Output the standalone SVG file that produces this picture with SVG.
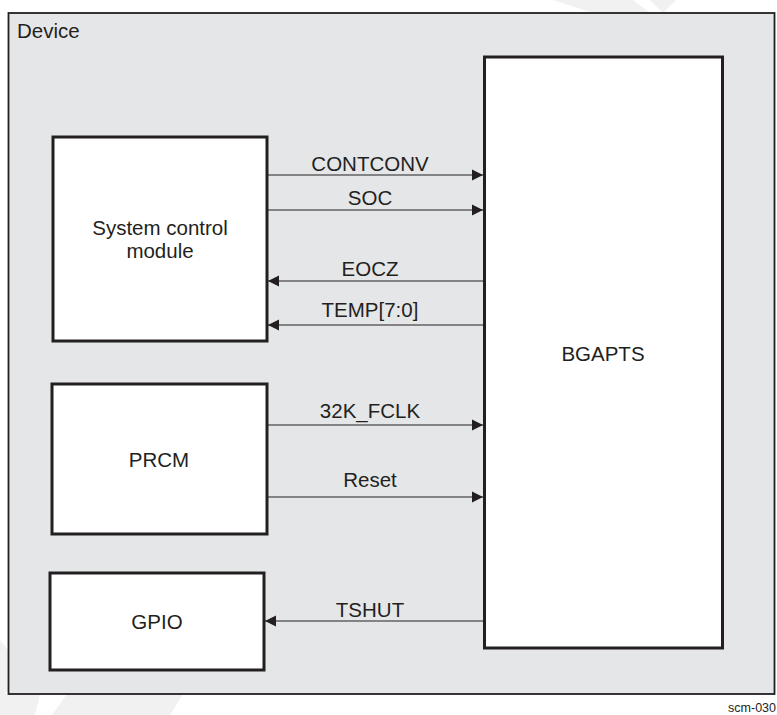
<svg xmlns="http://www.w3.org/2000/svg" width="777" height="715" viewBox="0 0 777 715">
<style>
text{font-family:"Liberation Sans",Arial,sans-serif;fill:#231f20}
.t{font-size:20.5px}
.c{text-anchor:middle}
.box{fill:#ffffff;stroke:#231f20;stroke-width:3}
.wire{stroke:#231f20;stroke-width:1.2;fill:none}
.wm{fill:#f1f1f2}
</style>
<defs>
<marker id="ah" markerUnits="userSpaceOnUse" markerWidth="12" markerHeight="12" viewBox="0 0 12 12" refX="11" refY="6" orient="auto">
<path d="M0,0.5 L11,6 L0,11.5 Z" fill="#231f20"/>
</marker>
</defs>
<rect x="0" y="0" width="777" height="715" fill="#ffffff"/>
<g id="watermark">
<polygon class="wm" points="553,0 633,0 650,13 593,13"/>
<polygon class="wm" points="650,0 676,0 663,13"/>
<polygon class="wm" points="0,694 40,694 35,715 0,715"/>
<polygon class="wm" points="67,694 183,694 170,715 52,715"/>
<polygon class="wm" points="0,640 8,650 8,690 0,700"/>
</g>
<g id="device">
<rect x="8.5" y="13" width="766" height="681" fill="#e5e6e8" stroke="#231f20" stroke-width="1.8"/>
<text class="t" x="17" y="38">Device</text>
</g>
<g id="scm">
<rect class="box" x="53" y="137" width="214" height="204"/>
<text class="t c" x="160" y="235">System control</text>
<text class="t c" x="160" y="258">module</text>
</g>
<g id="prcm">
<rect class="box" x="52" y="384" width="215" height="150"/>
<text class="t c" x="159" y="467">PRCM</text>
</g>
<g id="gpio">
<rect class="box" x="50" y="573" width="214" height="97"/>
<text class="t c" x="157" y="629">GPIO</text>
</g>
<g id="bgapts">
<rect class="box" x="484.5" y="57" width="238" height="591"/>
<text class="t c" x="603" y="361">BGAPTS</text>
</g>
<g id="connectors">
<line class="wire" x1="268" y1="175" x2="483" y2="175" marker-end="url(#ah)"/>
<line class="wire" x1="268" y1="210" x2="483" y2="210" marker-end="url(#ah)"/>
<line class="wire" x1="483" y1="281" x2="268" y2="281" marker-end="url(#ah)"/>
<line class="wire" x1="483" y1="325" x2="268" y2="325" marker-end="url(#ah)"/>
<line class="wire" x1="268" y1="425" x2="483" y2="425" marker-end="url(#ah)"/>
<line class="wire" x1="268" y1="497" x2="483" y2="497" marker-end="url(#ah)"/>
<line class="wire" x1="483" y1="621" x2="265" y2="621" marker-end="url(#ah)"/>
<text class="t c" x="370" y="171">CONTCONV</text>
<text class="t c" x="370" y="205">SOC</text>
<text class="t c" x="370" y="276">EOCZ</text>
<text class="t c" x="370" y="317">TEMP[7:0]</text>
<text class="t c" x="370" y="418">32K_FCLK</text>
<text class="t c" x="370" y="487">Reset</text>
<text class="t c" x="370" y="617">TSHUT</text>
</g>
<text x="776" y="712" font-size="12.5" text-anchor="end">scm-030</text>
</svg>
